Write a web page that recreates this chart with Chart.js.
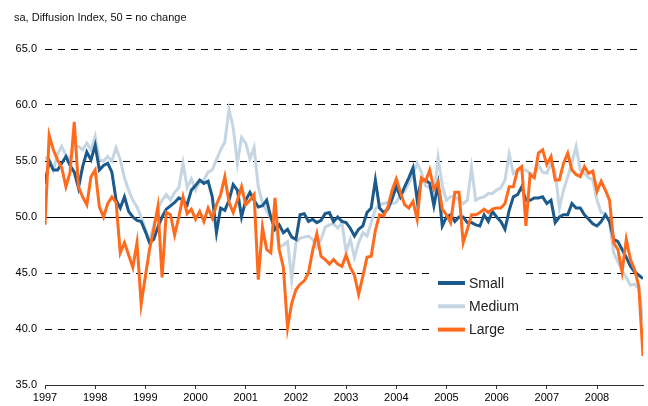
<!DOCTYPE html>
<html>
<head>
<meta charset="utf-8">
<script src="https://cdn.jsdelivr.net/npm/chart.js@4.4.0/dist/chart.umd.min.js"></script>
<style>
  html, body { margin: 0; padding: 0; background: #fff; }
  #wrap { width: 648px; height: 406px; }
</style>
</head>
<body>
<div id="wrap"><canvas id="chart" width="648" height="406"></canvas></div>
<script>
// monthly diffusion index, Jan 1997 - Dec 2008
const years = ['1997', '1998', '1999', '2000', '2001', '2002', '2003', '2004', '2005', '2006', '2007', '2008'];

const small = [
  53.0, 55.0, 54.2, 54.2, 54.8, 55.4, 54.6, 54.0, 52.6, 54.5, 55.8, 55.1,
  56.4, 54.2, 54.6, 54.8, 54.0, 51.5, 50.8, 51.8, 50.5, 50.0, 49.7, 49.6,
  48.7, 47.7, 48.0, 49.1, 50.0, 50.7, 51.0, 51.3, 51.7, 51.5, 51.1, 52.4,
  52.8, 53.3, 53.0, 53.2, 51.8, 48.6, 50.8, 50.6, 51.5, 52.9, 52.4, 50.0,
  51.5, 52.2, 51.5, 50.9, 51.0, 51.5, 50.0, 48.9, 49.3, 48.6, 48.9, 48.2,
  48.0, 50.2, 50.3, 49.6, 49.8, 49.5, 49.7, 50.3, 50.4, 49.6, 50.0, 49.6,
  49.5, 49.0, 48.3, 48.9, 49.2, 50.4, 50.8, 53.3, 50.8, 50.4, 50.7, 51.6,
  52.7, 51.8, 52.7, 53.5, 54.4, 51.5, 53.3, 53.3, 53.0, 51.0, 52.9, 49.2,
  50.0, 50.2, 49.6, 50.0, 50.0, 49.5, 49.5, 49.3, 49.2, 50.2, 49.6, 50.5,
  50.0, 49.6, 48.9, 50.6, 51.8, 52.0, 52.7, 51.5, 51.5, 51.7, 51.7, 51.8,
  51.2, 51.5, 49.5, 50.0, 50.2, 50.2, 51.2, 50.8, 50.8, 50.2, 49.8, 49.4,
  49.2, 49.6, 50.2, 49.6, 48.0, 47.8, 47.1, 46.4, 45.6, 45.1, 44.8, 44.5
];

const medium = [
  55.3, 55.2, 54.2, 55.6, 56.3, 55.5, 55.2, 56.3, 56.3, 56.0, 56.6, 56.0,
  57.2, 55.1, 55.0, 55.4, 55.0, 56.2, 55.1, 53.5, 52.4, 51.5, 50.9, 50.0,
  48.9, 47.9, 49.2, 50.8, 51.5, 52.0, 51.5, 52.2, 52.6, 54.8, 52.6, 53.4,
  52.4, 53.2, 53.3, 54.0, 54.2, 55.1, 56.0, 56.7, 59.6, 58.0, 54.8, 57.1,
  56.6, 55.2, 56.2, 52.7, 51.3, 50.5, 49.9, 49.8, 47.3, 47.5, 47.8, 44.4,
  47.7, 48.1, 48.2, 48.3, 48.0, 47.3, 48.0, 49.1, 49.3, 49.4, 49.0, 49.5,
  46.9, 48.0, 46.4, 47.7, 48.6, 48.3, 49.5, 50.7, 51.1, 51.2, 51.3, 51.2,
  51.3, 52.0, 52.3, 53.0, 53.8, 54.8, 54.0, 52.8, 52.6, 51.8, 55.3, 52.8,
  51.5, 51.8, 51.8, 51.5, 51.2, 51.5, 54.4, 51.5, 51.7, 51.8, 52.1, 52.1,
  52.4, 52.6, 53.3, 55.6, 53.9, 54.2, 54.2, 54.2, 53.9, 53.8, 54.6, 54.0,
  53.9, 54.8, 54.0, 50.8, 52.4, 53.6, 54.8, 56.3, 54.2, 53.9, 53.5, 53.3,
  51.5, 50.4, 50.3, 49.5, 46.8, 46.0, 45.2, 44.6, 43.9, 44.0, 43.6, 40.8
];

const large = [
  49.3, 57.3, 56.0, 55.1, 54.4, 52.7, 54.0, 58.5, 52.7, 51.8, 51.1, 53.6,
  54.2, 50.9, 50.0, 51.2, 51.8, 51.3, 46.8, 47.7, 46.6, 45.5, 47.7, 42.2,
  44.7, 47.1, 48.9, 50.9, 44.6, 50.4, 50.2, 48.4, 50.0, 51.8, 50.3, 50.7,
  49.8, 50.5, 49.6, 50.8, 49.9, 51.1, 52.0, 53.6, 51.3, 50.4, 51.5, 52.7,
  51.1, 51.5, 52.0, 44.4, 49.1, 47.1, 46.8, 51.7, 47.1, 45.5, 40.1, 42.3,
  43.5, 44.0, 44.3, 45.0, 47.0, 48.5, 46.5, 46.2, 45.8, 46.2, 45.8, 45.6,
  46.6, 45.5, 44.8, 43.1, 44.7, 46.4, 46.5, 48.8, 50.2, 50.1, 50.9, 52.4,
  53.4, 52.2, 51.1, 50.8, 51.4, 49.8, 53.5, 53.2, 54.2, 52.5, 53.1, 50.7,
  50.2, 49.5, 52.2, 52.2, 47.7, 48.9, 50.2, 50.2, 50.4, 50.7, 50.4, 50.7,
  50.8, 50.8, 51.2, 52.7, 52.7, 54.2, 54.5, 49.2, 53.8, 53.5, 55.7, 56.0,
  54.7, 55.4, 53.3, 53.3, 54.8, 55.7, 54.2, 53.8, 53.6, 54.5, 53.9, 54.1,
  52.3, 53.2, 52.4, 51.5, 47.7, 47.1, 45.1, 48.0, 46.2, 45.3, 43.8, 37.6
];

// x position = month number since Jan 1997
const months = small.map((_, i) => i);

const FONT = '"Liberation Sans", Arial, sans-serif';

const titleText = {
  id: 'titleText',
  afterDraw(chart) {
    const ctx = chart.ctx;
    ctx.save();
    ctx.font = '11px ' + FONT;
    ctx.fillStyle = '#111';
    ctx.textBaseline = 'middle';
    ctx.fillText('sa, Diffusion Index, 50 = no change', 14, 18);
    ctx.restore();
  }
};

// legend sits on a white box that cuts the grid lines
const boxLegend = {
  id: 'boxLegend',
  beforeDatasetsDraw(chart) {
    const ctx = chart.ctx;
    ctx.save();
    ctx.fillStyle = '#fff';
    ctx.fillRect(433, 268, 92, 72);
    ctx.font = '14px ' + FONT;
    ctx.textBaseline = 'middle';
    chart.data.datasets.forEach((ds, i) => {
      const ly = 283 + i * 23.3;
      ctx.strokeStyle = ds.borderColor;
      ctx.lineWidth = 4;
      ctx.beginPath();
      ctx.moveTo(438, ly);
      ctx.lineTo(465, ly);
      ctx.stroke();
      ctx.fillStyle = '#222';
      ctx.fillText(ds.label, 469, ly + 1);
    });
    ctx.restore();
  }
};

new Chart(document.getElementById('chart'), {
  type: 'line',
  data: {
    labels: months,
    datasets: [
      { label: 'Small', data: small, borderColor: '#1b5a8b', order: 1 },
      { label: 'Medium', data: medium, borderColor: '#c5d5e2', order: 2 },
      { label: 'Large', data: large, borderColor: '#ff6b1c', order: 0 }
    ]
  },
  options: {
    responsive: false,
    animation: false,
    devicePixelRatio: 1,
    layout: { padding: { top: 49, right: 5, bottom: 0, left: 0 } },
    elements: {
      point: { radius: 0 },
      line: { tension: 0, borderWidth: 3, fill: false }
    },
    plugins: {
      legend: { display: false },
      tooltip: { enabled: false }
    },
    scales: {
      x: {
        type: 'linear',
        min: 0,
        max: 143,
        afterBuildTicks: (s) => { s.ticks = years.map((y, i) => ({ value: i * 12 })); },
        afterFit: (s) => { s.height = 21; },
        border: { display: true, color: '#333', width: 1 },
        grid: { drawOnChartArea: false, drawTicks: true, tickLength: 4, color: '#333' },
        ticks: {
          autoSkip: false,
          maxRotation: 0,
          padding: 2,
          color: '#000',
          font: { family: FONT, size: 11 },
          callback: (v) => years[v / 12]
        }
      },
      y: {
        min: 35,
        max: 65,
        afterFit: (s) => { s.width = 45; },
        border: {
          display: false,
          dash: (c) => (c.tick && c.tick.value === 50 ? [] : [7, 6])
        },
        grid: {
          drawTicks: false,
          lineWidth: 1,
          color: (c) => (c.tick && c.tick.value === 35 ? 'rgba(0,0,0,0)' : '#000')
        },
        ticks: {
          stepSize: 5,
          padding: 8,
          color: '#000',
          font: { family: FONT, size: 11 },
          callback: (v) => v.toFixed(1)
        }
      }
    }
  },
  plugins: [titleText, boxLegend]
});
</script>
</body>
</html>
